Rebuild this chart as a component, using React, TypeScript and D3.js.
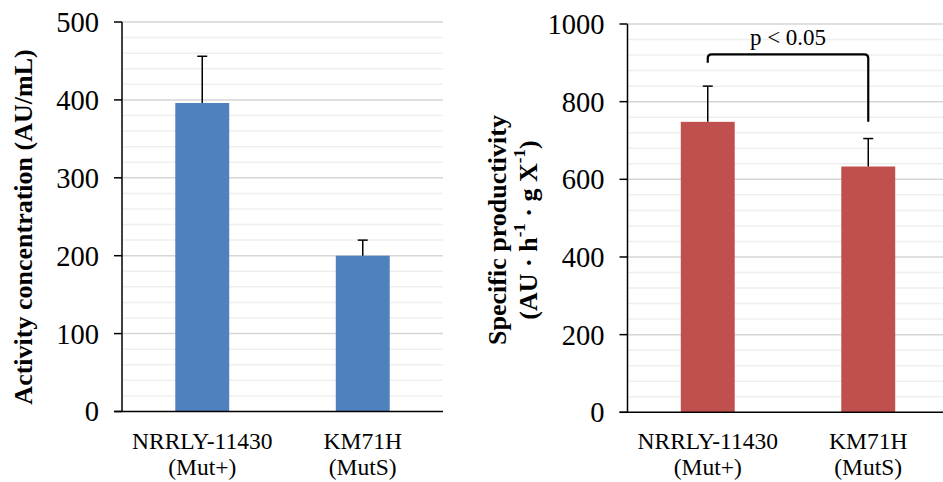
import React from 'react'
import * as d3 from 'd3'

const categories = ['NRRLY-11430', 'KM71H']
const strainTypes = ['(Mut+)', '(MutS)']

const activityValues = [396, 200]
const activityErrors = [60, 20]
const activityTicks = [0, 100, 200, 300, 400, 500]

const productivityValues = [748, 633]
const productivityErrors = [92, 72]
const productivityTicks = [0, 200, 400, 600, 800, 1000]

// significance bracket: top, left leg end, right leg end (in axis units)
const bracketLevels = [922, 900, 748]
const bracketLabel = 'p < 0.05'

const FONT = '"Liberation Serif", "Times New Roman", serif'

type PanelProps = {
  x0: number
  x1: number
  yTop: number
  yBottom: number
  values: number[]
  errors: number[]
  ticks: number[]
  minorStep: number
  color: string
  children?: (x: d3.ScaleBand<string>, y: d3.ScaleLinear<number, number>) => React.ReactNode
}

function Panel({ x0, x1, yTop, yBottom, values, errors, ticks, minorStep, color, children }: PanelProps) {
  const max = ticks[ticks.length - 1]
  const y = d3.scaleLinear().domain([0, max]).range([yBottom, yTop])
  const x = d3
    .scaleBand<string>()
    .domain(categories)
    .range([x0, x1])
    .paddingInner(0.664)
    .paddingOuter(0.332)
  const minor = d3.range(minorStep, max, minorStep).filter(v => !ticks.includes(v))

  return (
    <g>
      {minor.map(v => (
        <line key={'m' + v} x1={x0} x2={x1} y1={y(v)} y2={y(v)} stroke="#efefef" strokeWidth={1.5} />
      ))}
      {ticks.slice(1).map(v => (
        <line key={'g' + v} x1={x0} x2={x1} y1={y(v)} y2={y(v)} stroke="#d6d6d6" strokeWidth={1.5} />
      ))}
      {categories.map((c, i) => {
        const cx = x(c)! + x.bandwidth() / 2
        return (
          <g key={c}>
            <rect x={x(c)} y={y(values[i])} width={x.bandwidth()} height={y(0) - y(values[i])} fill={color} />
            <line x1={cx} x2={cx} y1={y(values[i])} y2={y(values[i] + errors[i])} stroke="#000" strokeWidth={1.5} />
            <line x1={cx - 5} x2={cx + 5} y1={y(values[i] + errors[i])} y2={y(values[i] + errors[i])} stroke="#000" strokeWidth={1.5} />
            <text x={cx} y={yBottom + 37} textAnchor="middle" fontSize={23.5} fontFamily={FONT}>
              {c}
            </text>
            <text x={cx} y={yBottom + 63} textAnchor="middle" fontSize={23.5} fontFamily={FONT}>
              {strainTypes[i]}
            </text>
          </g>
        )
      })}
      {ticks.map(v => (
        <g key={'t' + v}>
          <line x1={x0 - 8} x2={x0} y1={y(v)} y2={y(v)} stroke="#000" strokeWidth={1.5} />
          <text x={x0 - 23} y={y(v)} dy="0.35em" textAnchor="end" fontSize={28.5} fontFamily={FONT}>
            {v}
          </text>
        </g>
      ))}
      <line x1={x0} x2={x0} y1={yTop} y2={yBottom} stroke="#000" strokeWidth={1.5} />
      <line x1={x0 - 8} x2={x1} y1={yBottom} y2={yBottom} stroke="#000" strokeWidth={1.5} />
      {children && children(x, y)}
    </g>
  )
}

export default function App() {
  return (
    <svg width={943} height={482} style={{ position: 'absolute', left: 0, top: 0, background: '#fff' }}>
      <Panel
        x0={122}
        x1={443}
        yTop={22}
        yBottom={411.5}
        values={activityValues}
        errors={activityErrors}
        ticks={activityTicks}
        minorStep={20}
        color="#4f81bd"
      />
      <text
        transform="translate(23,227) rotate(-90)"
        textAnchor="middle"
        dominantBaseline="central"
        fontSize={26}
        fontWeight="bold"
        fontFamily={FONT}
      >
        Activity concentration (AU/mL)
      </text>

      <Panel
        x0={627.5}
        x1={948.5}
        yTop={24}
        yBottom={412.3}
        values={productivityValues}
        errors={productivityErrors}
        ticks={productivityTicks}
        minorStep={40}
        color="#c0504d"
      >
        {(x, y) => {
          const xa = x(categories[0])! + x.bandwidth() / 2
          const xb = x(categories[1])! + x.bandwidth() / 2
          const [top, leftEnd, rightEnd] = bracketLevels
          const r = 4
          const path = d3.path()
          path.moveTo(xa, y(leftEnd))
          path.lineTo(xa, y(top) + r)
          path.quadraticCurveTo(xa, y(top), xa + r, y(top))
          path.lineTo(xb - r, y(top))
          path.quadraticCurveTo(xb, y(top), xb, y(top) + r)
          path.lineTo(xb, y(rightEnd))
          return (
            <g>
              <path d={path.toString()} fill="none" stroke="#000" strokeWidth={2.2} />
              <text x={(xa + xb) / 2} y={y(top) - 9} textAnchor="middle" fontSize={23} fontFamily={FONT}>
                {bracketLabel}
              </text>
            </g>
          )
        }}
      </Panel>
      <g transform="translate(497,230) rotate(-90)" fontSize={26} fontWeight="bold" fontFamily={FONT}>
        <text textAnchor="middle" dominantBaseline="central">
          Specific productivity
        </text>
        <text y={31} textAnchor="middle" dominantBaseline="central">
          (AU · h
          <tspan dy={-9} fontSize={17}>-1</tspan>
          <tspan dy={9}> · g X</tspan>
          <tspan dy={-9} fontSize={17}>-1</tspan>
          <tspan dy={9}>)</tspan>
        </text>
      </g>
    </svg>
  )
}
